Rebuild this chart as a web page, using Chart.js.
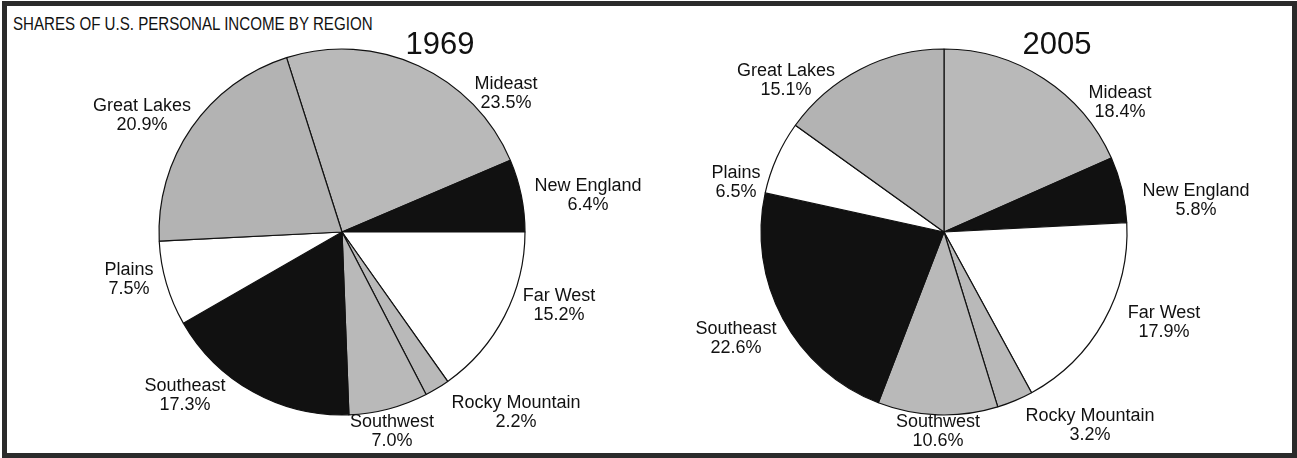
<!DOCTYPE html>
<html>
<head>
<meta charset="utf-8">
<script src="https://cdn.jsdelivr.net/npm/chart.js@4"></script>
<style>
  html, body { margin: 0; padding: 0; background: #fff; }
  #wrap { position: relative; width: 1297px; height: 458px; overflow: hidden; background: #fff; }
  #frame { position: absolute; left: 2px; top: 1px; width: 1295px; height: 457px; box-sizing: border-box; border: 5px solid #2b2b2b; pointer-events: none; }
  #title { position: absolute; left: 13px; top: 14px; font: 18px "Liberation Sans", Arial, sans-serif; color: #111; white-space: nowrap; transform: scaleX(0.84); transform-origin: 0 0; }
  canvas { position: absolute; left: 0; top: 0; }
</style>
</head>
<body>
<div id="wrap">
  <div id="title">SHARES OF U.S. PERSONAL INCOME BY REGION</div>
  <canvas id="c1969" width="1297" height="458"></canvas>
  <canvas id="c2005" width="1297" height="458"></canvas>
  <div id="frame"></div>
</div>
<script>
// ---- data ----
const regions = ["Mideast", "New England", "Far West", "Rocky Mountain", "Southwest", "Southeast", "Plains", "Great Lakes"];
const shares1969 = [23.5, 6.4, 15.2, 2.2, 7.0, 17.3, 7.5, 20.9];
const shares2005 = [18.4, 5.8, 17.9, 3.2, 10.6, 22.6, 6.5, 15.1];
const years = ["1969", "2005"];

// ---- styles ----
const GRAY = "#b9b9b9", GRAY2 = "#b3b3b3", BLACK = "#111111", WHITE = "#ffffff";
const sliceColors = [GRAY, BLACK, WHITE, GRAY, GRAY, BLACK, WHITE, GRAY2];
const W = 1297, H = 458, BOX = 200, RADIUS = 183;
const FONT = '"Liberation Sans", Arial, Helvetica, sans-serif';

// label placement (relative to pie centre, px) - layout only
const layout = {
  "1969": {
    cx: 342, cy: 232, rotation: -17.64,
    yearOffset: [98, -187],
    labelOffsets: [[164, -148], [246, -46], [217, 64], [174, 171], [50, 190], [-157, 154], [-213, 38], [-200, -126]]
  },
  "2005": {
    cx: 944, cy: 232, rotation: 0,
    yearOffset: [113, -187],
    labelOffsets: [[176, -139], [252, -41], [220, 81], [146, 184], [-6, 190], [-208, 97], [-208, -59], [-158, -161]]
  }
};

const labelPlugin = {
  id: 'pieLabels',
  afterDraw(chart, args, opts) {
    const ctx = chart.ctx;
    const meta = chart.getDatasetMeta(0);
    const arc0 = meta.data[0];
    if (!arc0) return;
    const cx = arc0.x, cy = arc0.y;
    const scale = arc0.outerRadius / RADIUS;
    const ds = chart.data.datasets[0];
    ctx.save();
    ctx.fillStyle = "#111";
    ctx.textAlign = "center";
    ctx.textBaseline = "middle";
    // year
    ctx.font = "31px " + FONT;
    ctx.fillText(opts.year, cx + opts.yearOffset[0] * scale, cy + opts.yearOffset[1] * scale);
    // slice labels
    ctx.font = "18px " + FONT;
    meta.data.forEach((arc, i) => {
      const off = opts.labelOffsets[i];
      const x = cx + off[0] * scale, y = cy + off[1] * scale;
      ctx.fillText(chart.data.labels[i], x, y);
      ctx.fillText(ds.data[i].toFixed(1) + "%", x, y + 19);
    });
    ctx.restore();
  }
};

function makePie(id, year, values) {
  const L = layout[year];
  return new Chart(document.getElementById(id), {
    type: 'pie',
    data: {
      labels: regions,
      datasets: [{
        data: values,
        backgroundColor: sliceColors,
        borderColor: "#111",
        borderWidth: 1.2,
        hoverOffset: 0
      }]
    },
    options: {
      responsive: false,
      animation: false,
      rotation: L.rotation,
      radius: RADIUS,
      layout: {
        padding: { left: L.cx - BOX, right: W - L.cx - BOX, top: L.cy - BOX, bottom: H - L.cy - BOX }
      },
      events: [],
      plugins: {
        legend: { display: false },
        tooltip: { enabled: false },
        title: { display: false },
        pieLabels: { year: year, yearOffset: L.yearOffset, labelOffsets: L.labelOffsets }
      }
    },
    plugins: [labelPlugin]
  });
}

makePie("c1969", years[0], shares1969);
makePie("c2005", years[1], shares2005);
</script>
</body>
</html>
